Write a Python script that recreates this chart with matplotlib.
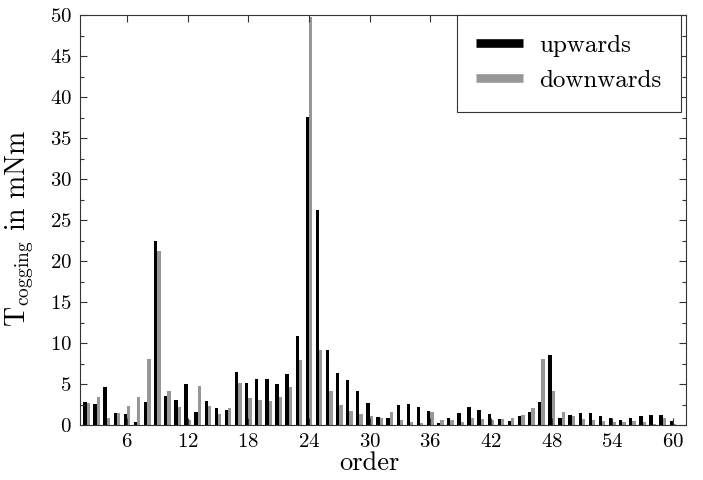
import matplotlib
matplotlib.use("Agg")
import matplotlib.pyplot as plt
from matplotlib.lines import Line2D
from matplotlib.ticker import MultipleLocator
import numpy as np

plt.rcParams["font.family"] = "cmr10"
plt.rcParams["mathtext.fontset"] = "cm"
plt.rcParams["axes.unicode_minus"] = False
plt.rcParams["axes.formatter.use_mathtext"] = True

# orders 2..60, cogging torque in mNm
orders = list(range(2, 61))
upwards = [2.84, 2.55, 4.6, 1.46, 1.3, 0.33, 2.84, 22.5, 3.5, 3.1,
           5.0, 1.58, 2.9, 2.1, 1.8, 6.42, 5.17, 5.6, 5.65, 5.0,
           6.2, 10.9, 37.6, 26.2, 9.15, 6.4, 5.45, 4.1, 2.64, 0.94,
           0.81, 2.44, 2.52, 2.15, 1.7, 0.24, 0.85, 1.5, 2.24, 1.83,
           1.34, 0.77, 0.53, 1.06, 1.58, 2.8, 8.5, 0.85, 1.22, 1.46,
           1.46, 1.1, 0.81, 0.65, 0.81, 1.06, 1.18, 1.22, 0.45]
downwards = [2.7, 3.45, 0.85, 1.46, 2.28, 3.45, 8.05, 21.2, 4.1, 2.15,
             0.6, 4.8, 2.28, 1.34, 2.07, 5.08, 3.3, 3.0, 2.97, 3.45,
             4.63, 7.9, 49.7, 9.15, 4.2, 2.4, 1.75, 1.34, 1.1, 0.9,
             1.55, 0.61, 0.37, 0.28, 1.58, 0.61, 0.57, 0.37, 0.85, 0.69,
             0.65, 0.69, 0.85, 1.22, 2.03, 8.05, 4.1, 1.63, 1.06, 0.77,
             0.61, 0.49, 0.37, 0.37, 0.49, 0.37, 0.16, 0.81, 0.12]
labels = ["upwards", "downwards"]
colors = ["black", "#979797"]

fig = plt.figure(figsize=(7.03, 4.8), dpi=100)
ax = fig.add_axes([80 / 703, 55 / 480, 606 / 703, 410 / 480])

x = np.array(orders)
w = 0.33
ax.bar(x - w / 2, upwards, width=w, color=colors[0], linewidth=0)
ax.bar(x + w / 2, downwards, width=w, color=colors[1], linewidth=0)

ax.set_xlim(1.35, 61.3)
ax.set_ylim(0, 50)
ax.xaxis.set_major_locator(MultipleLocator(6))
ax.yaxis.set_major_locator(MultipleLocator(5))
ax.yaxis.set_minor_locator(MultipleLocator(2.5))
ax.tick_params(which="both", direction="in", top=True, right=True,
               labelsize=15, color="#333333", width=0.8)
ax.tick_params(which="major", length=5, pad=6)
ax.tick_params(which="minor", length=3)
for s in ax.spines.values():
    s.set_color("#333333")
    s.set_linewidth(0.8)

ax.set_xlabel("order", fontsize=19)
ax.xaxis.set_label_coords(0.477, -0.063)
ax.set_ylabel(r"$\mathrm{T_{cogging}}$ in mNm", fontsize=20)
ax.yaxis.set_label_coords(-0.073, 0.48)

handles = [Line2D([], [], color=c, lw=6.2, solid_capstyle="butt") for c in colors]
leg = ax.legend(handles, labels, loc="upper right", bbox_to_anchor=(0.9917, 1.0),
                borderaxespad=0, fontsize=18, fancybox=False, framealpha=1,
                edgecolor="#333333", handlelength=1.88, handletextpad=0.64,
                borderpad=0.78, labelspacing=0.5)
leg.get_frame().set_linewidth(0.8)

fig.savefig("out.png", dpi=100)
